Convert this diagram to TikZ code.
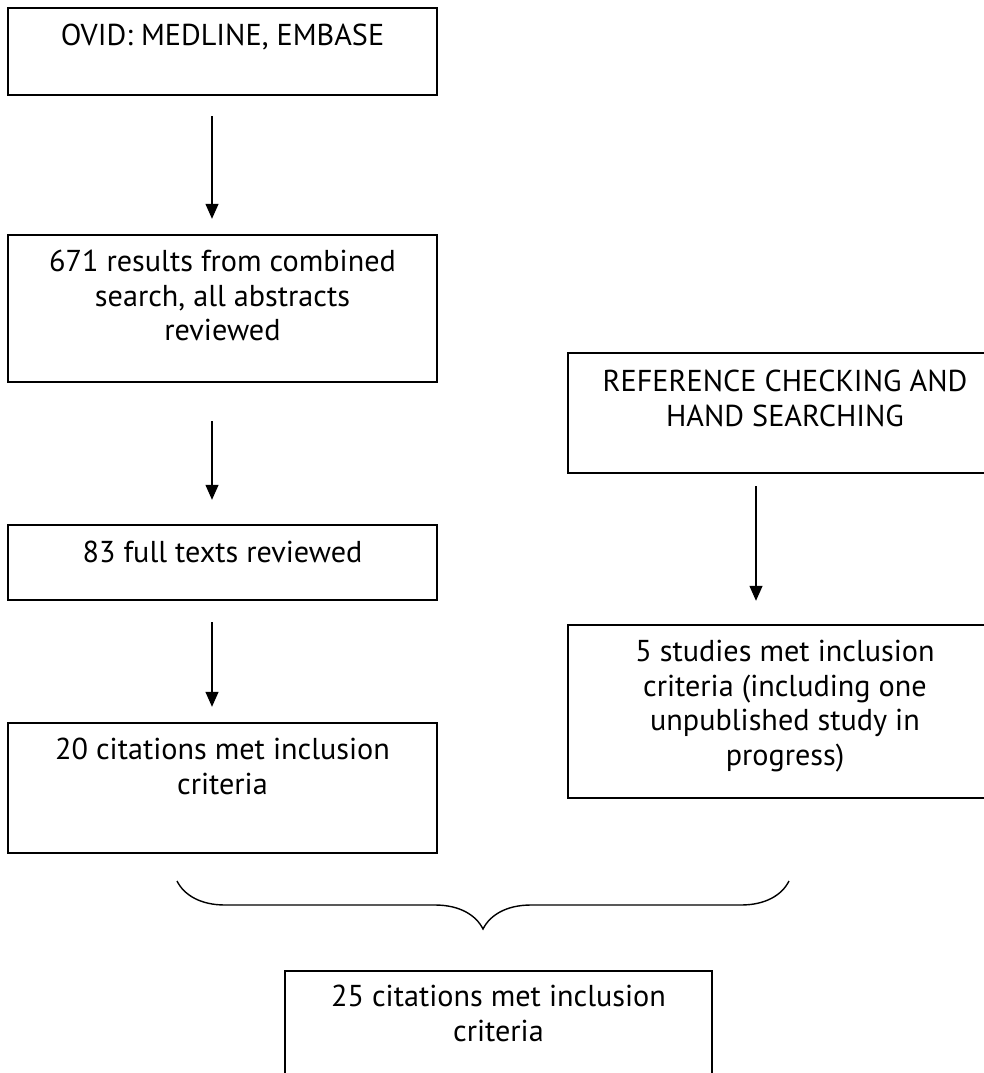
\documentclass[tikz,border=0pt]{standalone}
\usepackage{fontspec}
\setmainfont{PT Sans}
\usetikzlibrary{arrows.meta}
\usetikzlibrary{decorations.pathreplacing}

\begin{document}
\begin{tikzpicture}[x=1pt, y=-1pt,
        frame/.style={draw, line width=2.4pt, inner sep=0pt},
        boxtext/.style={anchor=base, align=center, inner sep=0pt, font=\fontsize{30.2}{34.5}\selectfont},
        flow/.style={line width=1.3pt, -{Triangle[length=15pt, width=13pt]}}]
    \useasboundingbox (0,0) rectangle (984,1073);

    % left column (base anchor sits on the last line)
    \node[frame, minimum width=429pt, minimum height=87pt] (ovid) at (222.5,51.5) {};
    \node[boxtext] (ovidtxt) at ([yshift=-39pt]ovid.north) {OVID: MEDLINE, EMBASE};
    \node[frame, minimum width=429pt, minimum height=147pt] (search) at (222.5,308.5) {};
    \node[boxtext] (searchtxt) at ([yshift=-107pt]search.north) {671 results from combined\\ search, all abstracts\\ reviewed};
    \node[frame, minimum width=429pt, minimum height=75pt] (fulltext) at (222.5,562.5) {};
    \node[boxtext] (fulltexttxt) at ([yshift=-39pt]fulltext.north) {83 full texts reviewed};
    \node[frame, minimum width=429pt, minimum height=130pt] (cited) at (222.5,788) {};
    \node[boxtext] (citedtxt) at ([yshift=-72.5pt]cited.north) {20 citations met inclusion\\ criteria};

    % right column
    \node[frame, minimum width=434pt, minimum height=120pt] (hand) at (785,413) {};
    \node[boxtext] (handtxt) at ([yshift=-74.5pt]hand.north) {REFERENCE CHECKING AND\\ HAND SEARCHING};
    \node[frame, minimum width=434pt, minimum height=173pt] (studies) at (785,711.5) {};
    \node[boxtext] (studiestxt) at ([yshift=-141.5pt]studies.north) {5 studies met inclusion\\ criteria (including one\\ unpublished study in\\ progress)};

    % combined
    \node[frame, minimum width=427pt, minimum height=114pt] (total) at (498.5,1028) {};
    \node[boxtext] (totaltxt) at ([yshift=-71.5pt]total.north) {25 citations met inclusion\\ criteria};

    \draw[flow, shorten <=20pt, shorten >=15pt] ([xshift=-10.5pt]ovid.south) -- ([xshift=-10.5pt]search.north);
    \draw[flow, shorten <=38pt, shorten >=24pt] ([xshift=-10.5pt]search.south) -- ([xshift=-10.5pt]fulltext.north);
    \draw[flow, shorten <=21pt, shorten >=15pt] ([xshift=-10.5pt]fulltext.south) -- ([xshift=-10.5pt]cited.north);
    \draw[flow, shorten <=12pt, shorten >=23pt] ([xshift=-29pt]hand.south) -- ([xshift=-29pt]studies.north);

    \coordinate (bracel) at (177,881);
    \coordinate (bracer) at (789,881);
    \draw[line width=1.4pt, decorate, decoration={brace, amplitude=48pt}] (bracer) -- (bracel);
\end{tikzpicture}
\end{document}
